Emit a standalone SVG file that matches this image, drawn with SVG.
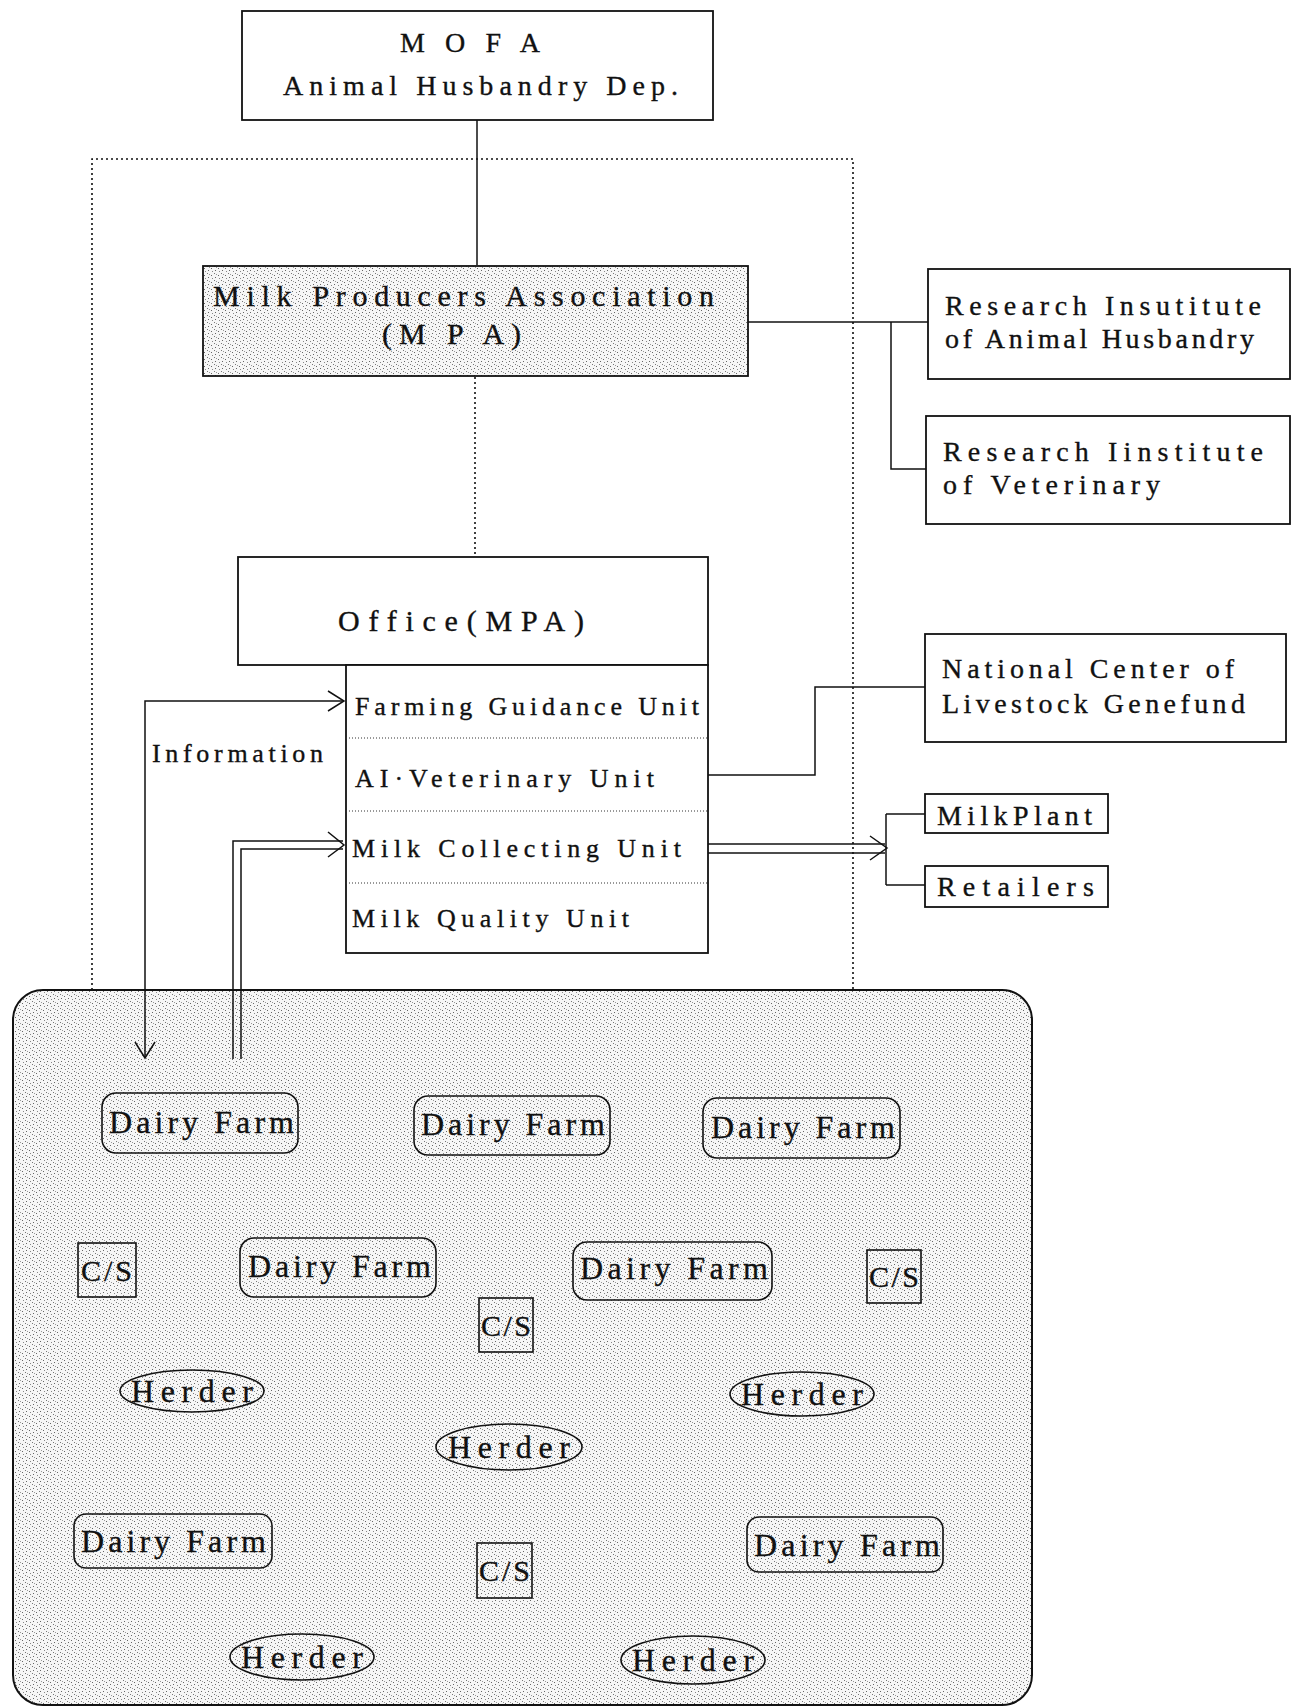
<svg xmlns="http://www.w3.org/2000/svg" width="1295" height="1708" viewBox="0 0 1295 1708">
<style>
text{font-family:"Liberation Serif","Times New Roman",serif;fill:#111;stroke:#111;stroke-width:0.35;}
.box{fill:#fff;stroke:#111;stroke-width:1.8;}
.stbox{fill:url(#stip);stroke:#111;stroke-width:1.8;}
.farm{fill:none;stroke:#111;stroke-width:1.6;}
.line{fill:none;stroke:#111;stroke-width:1.5;}
.dot{fill:none;stroke:#111;stroke-width:1.6;stroke-dasharray:2 3;}
.sep{fill:none;stroke:#333;stroke-width:1;stroke-dasharray:1 2;}
.t26{font-size:26px;}
.t28{font-size:28px;}
.t30{font-size:30px;}
.t32{font-size:32px;}
</style>
<defs>
<pattern id="stip" width="7" height="7" patternUnits="userSpaceOnUse">
<rect width="7" height="7" fill="#f6f6f6"/>
<rect x="1" y="2" width="1" height="1" fill="#666"/>
<rect x="4" y="0" width="1" height="1" fill="#777"/>
<rect x="5" y="4" width="1" height="1" fill="#666"/>
<rect x="2" y="5" width="1" height="1" fill="#888"/>
<rect x="6" y="1" width="1" height="1" fill="#999"/>
</pattern>
<marker id="chev" markerUnits="userSpaceOnUse" markerWidth="20" markerHeight="24" refX="17" refY="11" orient="auto-start-reverse">
<path d="M1,1 L17,11 L1,21" fill="none" stroke="#111" stroke-width="1.5"/>
</marker>
</defs>
<rect width="1295" height="1708" fill="#fff"/>

<g id="farm-area">
<rect x="13" y="990" width="1019" height="715" rx="30" ry="30" fill="url(#stip)" stroke="#111" stroke-width="2"/>
</g>

<g id="connectors">
<path class="dot" d="M92 990 V159 H853 V990"/>
<path class="line" d="M477 120 V265"/>
<path class="dot" d="M475 377 V557"/>
<path class="line" d="M748 322 H928"/>
<path class="line" d="M891 322 V469 H926"/>
<path class="line" d="M708 775 H815 V687 H925"/>
<path class="line" d="M145 1058 V701 H344" marker-start="url(#chev)" marker-end="url(#chev)"/>
<path class="line" d="M233 1059 V841 H343"/>
<path class="line" d="M241 1059 V849 H343"/>
<path class="line" d="M328 832 L344 845 L328 857"/>
<path class="line" d="M708 844 H885"/>
<path class="line" d="M708 853 H885"/>
<path class="line" d="M870 836 L887 848 L870 860"/>
<path class="line" d="M886 814 V885"/>
<path class="line" d="M886 814 H925"/>
<path class="line" d="M886 885 H925"/>
<text class="t26" x="152" y="762" textLength="171" lengthAdjust="spacing">Information</text>
</g>

<g id="mofa">
<rect class="box" x="242" y="11" width="471" height="109"/>
<text class="t28" x="400" y="52" textLength="140" lengthAdjust="spacing">M O F A</text>
<text class="t28" x="283" y="95" textLength="395" lengthAdjust="spacing">Animal Husbandry Dep.</text>
</g>

<g id="mpa">
<rect class="stbox" x="203" y="266" width="545" height="110"/>
<text class="t30" x="213" y="306" textLength="501" lengthAdjust="spacing">Milk Producers Association</text>
<text class="t30" x="382" y="344" textLength="139" lengthAdjust="spacing">(M P A)</text>
</g>

<g id="research-animal">
<rect class="box" x="928" y="269" width="362" height="110"/>
<text class="t28" x="945" y="315" textLength="316" lengthAdjust="spacing">Research  Insutitute</text>
<text class="t28" x="945" y="348" textLength="309" lengthAdjust="spacing">of Animal Husbandry</text>
</g>

<g id="research-vet">
<rect class="box" x="926" y="416" width="364" height="108"/>
<text class="t28" x="943" y="461" textLength="320" lengthAdjust="spacing">Research Iinstitute</text>
<text class="t28" x="943" y="494" textLength="217" lengthAdjust="spacing">of Veterinary</text>
</g>

<g id="office">
<rect class="box" x="238" y="557" width="470" height="108"/>
<rect class="box" x="346" y="665" width="362" height="288"/>
<path class="sep" d="M346 738 H708 M346 811 H708 M346 883 H708"/>
<text class="t30" x="338" y="631" textLength="246" lengthAdjust="spacing">Office(MPA)</text>
<text class="t26" x="355" y="715" textLength="344" lengthAdjust="spacing">Farming Guidance Unit</text>
<text class="t26" x="355" y="787" textLength="299" lengthAdjust="spacing">AI·Veterinary Unit</text>
<text class="t26" x="352" y="857" textLength="329" lengthAdjust="spacing">Milk Collecting Unit</text>
<text class="t26" x="352" y="927" textLength="277" lengthAdjust="spacing">Milk Quality Unit</text>
</g>

<g id="national-center">
<rect class="box" x="925" y="634" width="361" height="108"/>
<text class="t28" x="942" y="678" textLength="292" lengthAdjust="spacing">National Center of</text>
<text class="t28" x="942" y="713" textLength="303" lengthAdjust="spacing">Livestock Genefund</text>
</g>

<g id="milk-plant">
<rect class="box" x="925" y="794" width="183" height="39"/>
<text class="t28" x="937" y="825" textLength="155" lengthAdjust="spacing">MilkPlant</text>
</g>

<g id="retailers">
<rect class="box" x="925" y="866" width="183" height="41"/>
<text class="t28" x="937" y="896" textLength="157" lengthAdjust="spacing">Retailers</text>
</g>

<g id="dairy-farm-1"><rect class="farm" x="102" y="1093" width="196" height="60" rx="14"/><text class="t32" x="109" y="1133" textLength="185" lengthAdjust="spacing">Dairy Farm</text></g>
<g id="dairy-farm-2"><rect class="farm" x="414" y="1096" width="196" height="59" rx="14"/><text class="t32" x="421" y="1135" textLength="184" lengthAdjust="spacing">Dairy Farm</text></g>
<g id="dairy-farm-3"><rect class="farm" x="703" y="1098" width="197" height="60" rx="14"/><text class="t32" x="711" y="1138" textLength="184" lengthAdjust="spacing">Dairy Farm</text></g>
<g id="dairy-farm-4"><rect class="farm" x="240" y="1238" width="196" height="59" rx="14"/><text class="t32" x="248" y="1277" textLength="183" lengthAdjust="spacing">Dairy Farm</text></g>
<g id="dairy-farm-5"><rect class="farm" x="573" y="1242" width="199" height="58" rx="14"/><text class="t32" x="580" y="1279" textLength="188" lengthAdjust="spacing">Dairy Farm</text></g>
<g id="dairy-farm-6"><rect class="farm" x="74" y="1514" width="198" height="54" rx="12"/><text class="t32" x="81" y="1552" textLength="185" lengthAdjust="spacing">Dairy Farm</text></g>
<g id="dairy-farm-7"><rect class="farm" x="747" y="1517" width="196" height="55" rx="12"/><text class="t32" x="754" y="1556" textLength="186" lengthAdjust="spacing">Dairy Farm</text></g>

<g id="cs-1"><rect class="farm" x="78" y="1243" width="58" height="54"/><text class="t30" x="81" y="1281" textLength="51" lengthAdjust="spacing">C/S</text></g>
<g id="cs-2"><rect class="farm" x="479" y="1298" width="54" height="54"/><text class="t30" x="481" y="1336" textLength="50" lengthAdjust="spacing">C/S</text></g>
<g id="cs-3"><rect class="farm" x="867" y="1250" width="54" height="53"/><text class="t30" x="869" y="1287" textLength="50" lengthAdjust="spacing">C/S</text></g>
<g id="cs-4"><rect class="farm" x="477" y="1543" width="55" height="55"/><text class="t30" x="479" y="1581" textLength="51" lengthAdjust="spacing">C/S</text></g>

<g id="herder-1"><ellipse class="farm" cx="192" cy="1391" rx="72" ry="21"/><text class="t32" x="192" y="1402" text-anchor="middle" textLength="122" lengthAdjust="spacing">Herder</text></g>
<g id="herder-2"><ellipse class="farm" cx="802" cy="1394" rx="72" ry="22"/><text class="t32" x="802" y="1405" text-anchor="middle" textLength="122" lengthAdjust="spacing">Herder</text></g>
<g id="herder-3"><ellipse class="farm" cx="509" cy="1447" rx="73" ry="23"/><text class="t32" x="509" y="1458" text-anchor="middle" textLength="122" lengthAdjust="spacing">Herder</text></g>
<g id="herder-4"><ellipse class="farm" cx="302" cy="1657" rx="72" ry="23"/><text class="t32" x="302" y="1668" text-anchor="middle" textLength="122" lengthAdjust="spacing">Herder</text></g>
<g id="herder-5"><ellipse class="farm" cx="693" cy="1660" rx="72" ry="24"/><text class="t32" x="693" y="1671" text-anchor="middle" textLength="122" lengthAdjust="spacing">Herder</text></g>
</svg>
